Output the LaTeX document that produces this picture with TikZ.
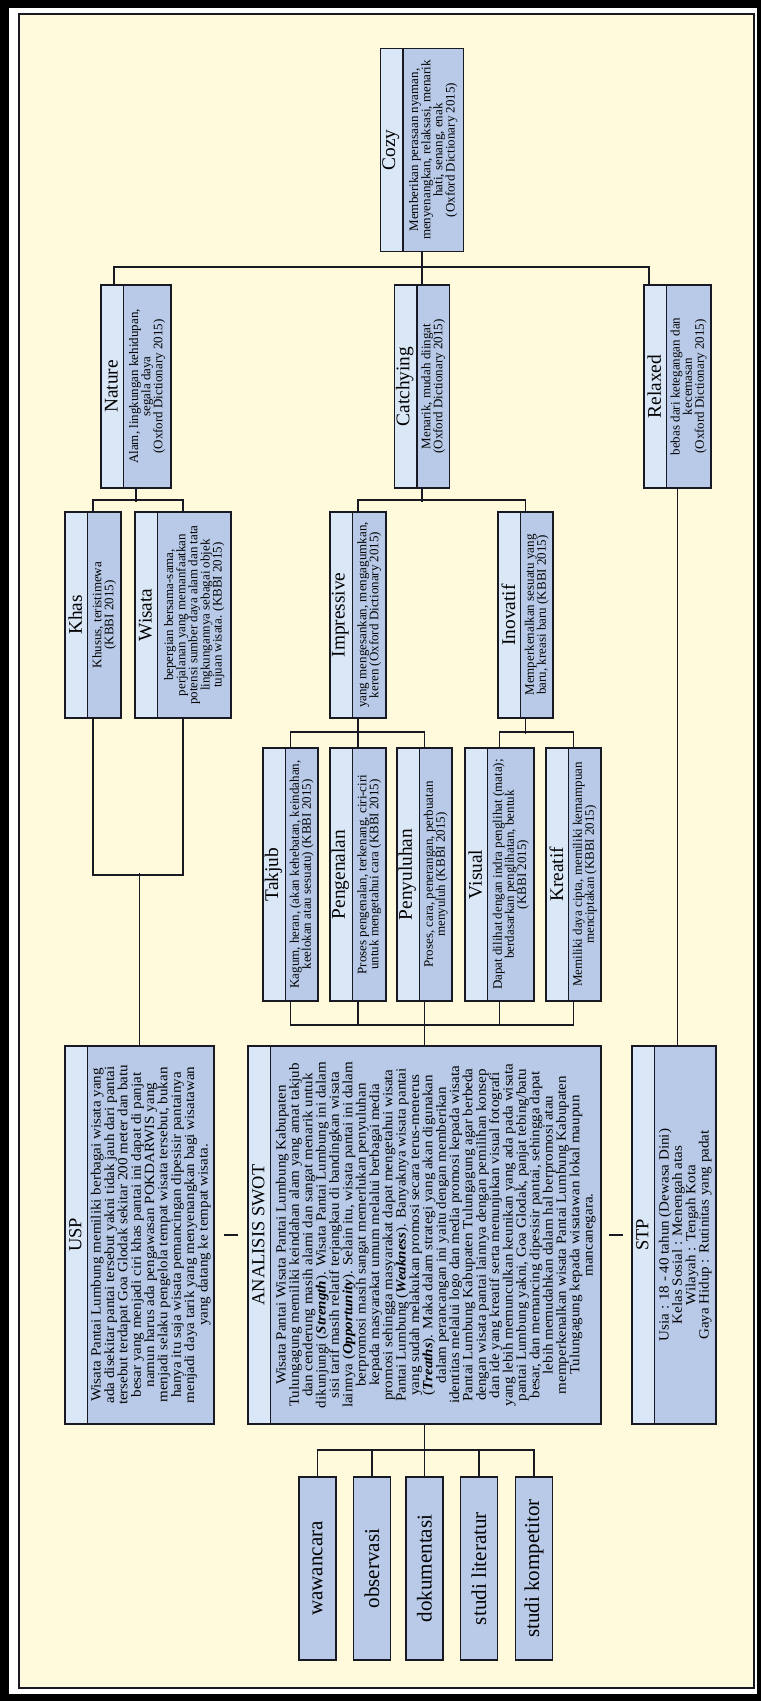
\documentclass[tikz,border=0pt]{standalone}
\usepackage{fontspec}
\setmainfont{Liberation Serif}
\newfontfamily\ketbfam[FakeStretch=1.07]{Liberation Serif}
\usepackage{xcolor}
\usepackage{tikz}
\usetikzlibrary{calc}

\definecolor{latar}{RGB}{255,250,220}
\definecolor{judulbg}{RGB}{218,231,247}
\definecolor{isibg}{RGB}{184,202,232}
\definecolor{garis}{RGB}{25,25,35}
\newcommand{\ketfont}{\fontsize{7.4}{6.9}\selectfont\lineskiplimit=-10pt\relax}
\newcommand{\ketbfont}{\ketbfam\fontsize{8}{7.6}\selectfont\lineskiplimit=-10pt\relax}

\begin{document}
\begin{tikzpicture}[
    x=0.02cm, y=-0.02cm,
    kotak/.style={draw=garis, line width=1pt, fill=isibg, inner sep=0pt,
        path picture={
            \fill[judulbg] (path picture bounding box.north west) rectangle ([xshift=0.45cm]path picture bounding box.south west);
            \draw[garis, line width=1pt] ([xshift=0.45cm]path picture bounding box.north west) -- ([xshift=0.45cm]path picture bounding box.south west);
        }},
    lv1/.style={kotak, minimum height=4.06cm},
    lv2/.style={kotak, minimum height=4.12cm},
    lv3/.style={kotak, minimum height=5.06cm},
    lv4/.style={kotak, minimum height=7.56cm},
    judul/.style={rotate=90, inner sep=0pt, font=\fontsize{11}{12}\selectfont},
    judulb/.style={judul, font=\fontsize{10.5}{12}\selectfont},
    ket/.style={rotate=90, inner sep=0pt, align=center, font=\ketfont},
    ketb/.style={ket, font=\ketbfont},
    daftar/.style={draw=garis, line width=1pt, fill=isibg, rotate=90, minimum width=3.66cm, minimum height=0.74cm, font=\fontsize{12}{14}\selectfont},
    hub/.style={draw=garis, line width=0.8pt},
    tanda/.style={draw=garis, line width=1.6pt},
]
\useasboundingbox (0,0) rectangle (761,1701);
\fill[black] (0,0) rectangle (761,1701);
\fill[white] (9,8) rectangle (757,1694);
\draw[garis, fill=latar, line width=0.6pt] (19,14) rectangle (754,1688);

\node[lv1, minimum width=1.66cm] (cozy) at (422,150) {};
\node[judul] (cozyj) at ([xshift=.225cm]cozy.west) {Cozy};
\node[ket] (cozyk) at ([xshift=.225cm]cozy.center) {Memberikan perasaan nyaman,\\menyenangkan, relaksasi, menarik\\hati, senang, enak\\(Oxford Dictionary 2015)};

\node[lv1, minimum width=1.40cm] (nature) at (136,386.5) {};
\node[judul] (naturej) at ([xshift=.225cm]nature.west) {Nature};
\node[ket] (naturek) at ([xshift=.225cm]nature.center) {Alam, lingkungan kehidupan,\\segala daya\\(Oxford Dictionary 2015)};

\node[lv1, minimum width=1.10cm] (catchying) at (422,386.5) {};
\node[judul] (catchyingj) at ([xshift=.225cm]catchying.west) {Catchying};
\node[ket] (catchyingk) at ([xshift=.225cm]catchying.center) {Menarik, mudah diingat\\(Oxford Dictionary 2015)};

\node[lv1, minimum width=1.34cm] (relaxed) at (677.5,386.5) {};
\node[judul] (relaxedj) at ([xshift=.225cm]relaxed.west) {Relaxed};
\node[ket] (relaxedk) at ([xshift=.225cm]relaxed.center) {bebas dari ketegangan dan\\kecemasan\\(Oxford Dictionary 2015)};

\node[lv2, minimum width=1.12cm] (khas) at (93,615) {};
\node[judul] (khasj) at ([xshift=.225cm]khas.west) {Khas};
\node[ket] (khask) at ([xshift=.225cm]khas.center) {Khusus, teristimewa\\(KBBI 2015)};

\node[lv2, minimum width=1.92cm] (wisata) at (183,615) {};
\node[judul] (wisataj) at ([xshift=.225cm]wisata.west) {Wisata};
\node[ket] (wisatak) at ([xshift=.225cm]wisata.center) {bepergian bersama-sama,\\perjalanan yang memanfaatkan\\potensi sumber daya alam dan tata\\lingkungannya sebagai objek\\tujuan wisata. (KBBI 2015)};

\node[lv2, minimum width=1.12cm] (impressive) at (358,615) {};
\node[judul] (impressivej) at ([xshift=.225cm]impressive.west) {Impressive};
\node[ket] (impressivek) at ([xshift=.225cm]impressive.center) {yang mengesankan, mengagumkan,\\keren (Oxford Dictionary 2015)};

\node[lv2, minimum width=1.10cm] (inovatif) at (525.5,615) {};
\node[judul] (inovatifj) at ([xshift=.225cm]inovatif.west) {Inovatif};
\node[ket] (inovatifk) at ([xshift=.225cm]inovatif.center) {Memperkenalkan sesuatu yang\\baru, kreasi baru (KBBI 2015)};

\node[lv3, minimum width=1.10cm] (takjub) at (290.5,874.5) {};
\node[judul] (takjubj) at ([xshift=.225cm]takjub.west) {Takjub};
\node[ket] (takjubk) at ([xshift=.225cm]takjub.center) {Kagum, heran, (akan kehebatan, keindahan,\\keelokan atau sesuatu) (KBBI 2015)};

\node[lv3, minimum width=1.12cm] (pengenalan) at (358,874.5) {};
\node[judul] (pengenalanj) at ([xshift=.225cm]pengenalan.west) {Pengenalan};
\node[ket] (pengenalank) at ([xshift=.225cm]pengenalan.center) {Proses pengenalan, terkenang, ciri-ciri\\untuk mengetahui cara (KBBI 2015)};

\node[lv3, minimum width=1.10cm] (penyuluhan) at (424.5,874.5) {};
\node[judul] (penyuluhanj) at ([xshift=.225cm]penyuluhan.west) {Penyuluhan};
\node[ket] (penyuluhank) at ([xshift=.225cm]penyuluhan.center) {Proses, cara, penerangan, perbuatan\\menyuluh (KBBI 2015)};

\node[lv3, minimum width=1.38cm] (visual) at (499.5,874.5) {};
\node[judul] (visualj) at ([xshift=.225cm]visual.west) {Visual};
\node[ket] (visualk) at ([xshift=.225cm]visual.center) {Dapat dilihat dengan indra penglihat (mata);\\berdasarkan penglihatan, bentuk\\(KBBI 2015)};

\node[lv3, minimum width=1.10cm] (kreatif) at (573.5,874.5) {};
\node[judul] (kreatifj) at ([xshift=.225cm]kreatif.west) {Kreatif};
\node[ket] (kreatifk) at ([xshift=.225cm]kreatif.center) {Memiliki daya cipta, memiliki kemampuan\\menciptakan (KBBI 2015)};

\node[lv4, minimum width=2.98cm] (usp) at (139.5,1235) {};
\node[judulb] (uspj) at ([xshift=.225cm]usp.west) {USP};
\node[ketb] (uspk) at ([xshift=.225cm]usp.center) {Wisata Pantai Lumbung memiliki berbagai wisata yang\\ada disekitar pantai tersebut yakni tidak jauh dari pantai\\tersebut terdapat Goa Glodak sekitar 200 meter dan batu\\besar yang menjadi ciri khas pantai ini dapat di panjat\\namun harus ada pengawasan POKDARWIS yang\\menjadi selaku pengelola tempat wisata tersebut, bukan\\hanya itu saja wisata pemancingan dipesisir pantainya\\menjadi daya tarik yang menyenangkan bagi wisatawan\\yang datang ke tempat wisata.};

\node[lv4, minimum width=7.06cm] (swot) at (424.5,1235) {};
\node[judulb] (swotj) at ([xshift=.225cm]swot.west) {ANALISIS SWOT};
\node[ketb] (swotk) at ([xshift=.225cm]swot.center) {Wisata Pantai Wisata Pantai Lumbung Kabupaten\\Tulungagung memiliki keindahan alam yang amat takjub\\dan cenderung masih alami dan sangat menarik untuk\\dikunjungi (\textbf{\textit{Strength}}). Wisata Pantai Lumbung ini dalam\\sisi tarif masih relatif terjangkau di bandingkan wisata\\lainnya (\textbf{\textit{Opportunity}}). Selain itu, wisata pantai ini dalam\\berpromosi masih sangat memerlukan penyuluhan\\kepada masyarakat umum melalui berbagai media\\promosi sehingga masyarakat dapat mengetahui wisata\\Pantai Lumbung (\textbf{\textit{Weakness}}). Banyaknya wisata pantai\\yang sudah melakukan promosi secara terus-menerus\\(\textbf{\textit{Treaths}}). Maka dalam strategi yang akan digunakan\\dalam perancangan ini yaitu dengan memberikan\\identitas melalui logo dan media promosi kepada wisata\\Pantai Lumbung Kabupaten Tulungagung agar berbeda\\dengan wisata pantai lainnya dengan pemilihan konsep\\dan ide yang kreatif serta menunjukan visual fotografi\\yang lebih memunculkan keunikan yang ada pada wisata\\pantai Lumbung yakni, Goa Glodak, panjat tebing/batu\\besar, dan memancing dipesisir pantai, sehingga dapat\\lebih memudahkan dalam hal berpromosi atau\\memperkenalkan wisata Pantai Lumbung Kabupaten\\Tulungagung kepada wisatawan lokal maupun\\mancanegara.};

\node[lv4, minimum width=1.68cm] (stp) at (674,1235) {};
\node[judulb] (stpj) at ([xshift=.225cm]stp.west) {STP};
\node[ketb] (stpk) at ([xshift=.225cm]stp.center) {Usia : 18 - 40 tahun (Dewasa Dini)\\Kelas Sosial : Menengah atas\\Wilayah : Tengah Kota\\Gaya Hidup : Rutinitas yang padat};

\node[daftar] (wawancara) at (317.5,1568.5) {wawancara};
\node[daftar] (observasi) at (372,1568.5) {observasi};
\node[daftar] (dokumentasi) at (424.5,1568.5) {dokumentasi};
\node[daftar] (literatur) at (479,1568.5) {studi literatur};
\node[daftar] (kompetitor) at (534,1568.5) {studi kompetitor};

\draw[hub] (cozy.south) -- (catchying.north);
\draw[hub] ([xshift=.28cm]nature.north west) -- ++(0,-17) -| ([xshift=.12cm]relaxed.north west);
\draw[hub] (nature.south) -- ++(0,13);
\draw[hub] (khas.north) -- ++(0,-11) -| (wisata.north);
\draw[hub] (catchying.south) -- ++(0,13);
\draw[hub] (impressive.north) -- ++(0,-11) -| (inovatif.north);
\draw[hub] (impressive.south) -- (pengenalan.north);
\draw[hub] (takjub.north) -- ++(0,-15) -| (penyuluhan.north);
\draw[hub] (inovatif.south) -- ++(0,15);
\draw[hub] (visual.north) -- ++(0,-15) -| (kreatif.north);
\draw[hub] (khas.south) -- ++(0,156) -| (wisata.south);
\draw[hub] (usp.north) -- ++(0,-172);
\draw[hub] (takjub.south) -- ++(0,23) -| (kreatif.south);
\draw[hub] (pengenalan.south) -- ++(0,23);
\draw[hub] (visual.south) -- ++(0,23);
\draw[hub] (penyuluhan.south) -- (swot.north);
\draw[hub] (relaxed.south) -- (relaxed.south |- stp.north);
\draw[hub] (swot.south) -- (dokumentasi.east);
\draw[hub] (wawancara.east) -- ++(0,-26) -| (kompetitor.east);
\draw[hub] (observasi.east) -- ++(0,-26);
\draw[hub] (literatur.east) -- ++(0,-26);

\draw[tanda] ($(usp.east)!.5!(swot.west)$) ++(-7,0) -- ++(14,0);
\draw[tanda] ($(swot.east)!.5!(stp.west)$) ++(-7,0) -- ++(14,0);
\end{tikzpicture}
\end{document}
